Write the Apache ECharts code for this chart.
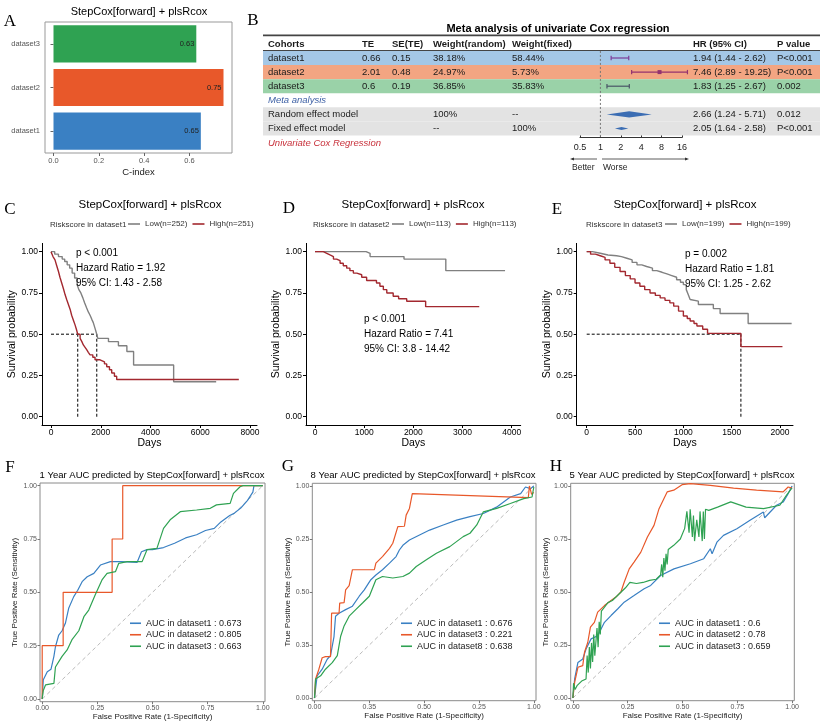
<!DOCTYPE html>
<html><head><meta charset="utf-8">
<script src="https://cdn.jsdelivr.net/npm/echarts@6/dist/echarts.min.js"></script>
<style>html,body{margin:0;padding:0;background:#fff}#c{width:825px;height:728px}</style>
</head><body><div id="c"></div>
<script>
// ---------------- DATA ----------------
// Panel A
const barCats = ['dataset1', 'dataset2', 'dataset3'];
const cIndex = [0.65, 0.75, 0.63];
const cIndexTicks = [0, 0.2, 0.4, 0.6];

// Panel B (meta analysis table)
const tableHeader = ['Cohorts', 'TE', 'SE(TE)', 'Weight(random)', 'Weight(fixed)', 'HR (95% CI)', 'P value'];
const cohorts = ['dataset1', 'dataset2', 'dataset3'];
const cohortTE = [0.66, 2.01, 0.6];
const cohortSE = [0.15, 0.48, 0.19];
const cohortWRandom = ['38.18%', '24.97%', '36.85%'];
const cohortWFixed = ['58.44%', '5.73%', '35.83%'];
const cohortHR = [1.94, 7.46, 1.83];
const cohortLo = [1.44, 2.89, 1.25];
const cohortHi = [2.62, 19.25, 2.67];
const cohortP = ['P<0.001', 'P<0.001', '0.002'];
const metaModels = ['Random effect model', 'Fixed effect model'];
const metaWRandom = ['100%', '--'];
const metaWFixed = ['--', '100%'];
const metaHR = [2.66, 2.05];
const metaLo = [1.24, 1.64];
const metaHi = [5.71, 2.58];
const metaP = ['0.012', 'P<0.001'];

// Panels C-E (Kaplan-Meier)  [days, survival]
const kmC_low = [[0,1],[150,0.985],[300,0.97],[450,0.955],[550,0.94],[650,0.92],[750,0.9],[850,0.87],[950,0.84],[1050,0.8],[1120,0.77],[1200,0.75],[1280,0.72],[1350,0.69],[1430,0.66],[1500,0.635],[1570,0.615],[1640,0.59],[1700,0.57],[1770,0.535],[1840,0.5],[1880,0.475],[2310,0.455],[2710,0.43],[3050,0.395],[3320,0.313],[4930,0.212],[6640,0.212]];
const kmC_high = [[0,1],[80,0.97],[160,0.95],[230,0.915],[300,0.88],[360,0.845],[430,0.81],[500,0.775],[565,0.74],[630,0.71],[700,0.68],[770,0.65],[830,0.615],[900,0.585],[970,0.555],[1020,0.53],[1075,0.5],[1170,0.475],[1240,0.455],[1300,0.435],[1370,0.42],[1440,0.405],[1500,0.39],[1570,0.375],[1680,0.36],[1770,0.345],[1970,0.333],[2150,0.32],[2240,0.303],[2350,0.285],[2440,0.265],[2550,0.245],[2640,0.226],[7550,0.226]];
const kmD_low = [[0,1],[1040,0.99],[1120,0.97],[1810,0.955],[2660,0.885],[3865,0.885]];
const kmD_high = [[0,1],[170,0.99],[240,0.98],[305,0.97],[375,0.955],[440,0.945],[510,0.93],[575,0.915],[645,0.9],[710,0.885],[780,0.87],[850,0.86],[950,0.845],[1050,0.825],[1250,0.81],[1320,0.79],[1390,0.77],[1460,0.75],[1590,0.73],[1700,0.715],[1865,0.7],[2250,0.667],[3340,0.667]];
const kmE_low = [[0,1],[60,0.99],[140,0.98],[220,0.975],[310,0.97],[360,0.96],[415,0.95],[470,0.935],[520,0.92],[570,0.91],[620,0.9],[680,0.885],[725,0.875],[780,0.865],[830,0.855],[880,0.845],[930,0.83],[970,0.815],[1000,0.8],[1030,0.77],[1050,0.74],[1070,0.71],[1090,0.7],[1155,0.68],[1310,0.655],[1380,0.625],[1670,0.565],[2120,0.565]];
const kmE_high = [[0,1],[40,0.985],[90,0.975],[140,0.965],[190,0.95],[240,0.93],[290,0.905],[345,0.88],[400,0.855],[450,0.835],[500,0.81],[550,0.79],[600,0.77],[655,0.75],[710,0.735],[760,0.72],[810,0.705],[860,0.69],[900,0.67],[950,0.64],[1000,0.61],[1040,0.595],[1070,0.58],[1110,0.565],[1140,0.55],[1200,0.53],[1250,0.505],[1595,0.425],[2025,0.425]];
const kmMedC = [1075, 1840];
const kmMedE = [1595];
const kmLegendC = ['Low(n=252)', 'High(n=251)'];
const kmLegendD = ['Low(n=113)', 'High(n=113)'];
const kmLegendE = ['Low(n=199)', 'High(n=199)'];
const kmPText = ['p < 0.001', 'p < 0.001', 'p = 0.002'];
const kmHR = ['1.92', '7.41', '1.81'];
const kmCI = ['1.43 - 2.58', '3.8 - 14.42', '1.25 - 2.62'];
const kmTicksC = [0, 2000, 4000, 6000, 8000];
const kmTicksD = [0, 1000, 2000, 3000, 4000];
const kmTicksE = [0, 500, 1000, 1500, 2000];
const survTicks = [0, 0.25, 0.5, 0.75, 1];

// Panels F-H (ROC)  [FPR, TPR]
const rocTicks = [0, 0.25, 0.5, 0.75, 1];
const rocTickLabels = ['0.00', '0.25', '0.50', '0.75', '1.00'];
const rocTickLabelsG = ['0.00', '0.35', '0.50', '0.25', '1.00'];
const rocNamesF = ['AUC in dataset1 : 0.673', 'AUC in dataset2 : 0.805', 'AUC in dataset3 : 0.663'];
const rocNamesG = ['AUC in dataset1 : 0.676', 'AUC in dataset3 : 0.221', 'AUC in dataset8 : 0.638'];
const rocNamesH = ['AUC in dataset1 : 0.6', 'AUC in dataset2 : 0.78', 'AUC in dataset3 : 0.659'];
const rocF1 = [[0,0],[0.005,0.09],[0.023,0.128],[0.04,0.14],[0.053,0.2],[0.06,0.245],[0.075,0.3],[0.09,0.32],[0.105,0.355],[0.12,0.425],[0.143,0.48],[0.161,0.51],[0.181,0.55],[0.204,0.573],[0.234,0.589],[0.264,0.628],[0.309,0.644],[0.36,0.644],[0.43,0.64],[0.45,0.69],[0.475,0.7],[0.5,0.7],[0.55,0.71],[0.6,0.73],[0.65,0.755],[0.7,0.77],[0.74,0.79],[0.78,0.8],[0.81,0.83],[0.85,0.86],[0.87,0.87],[0.9,0.895],[0.93,0.93],[0.955,0.97],[0.96,1],[1,1]];
const rocF2 = [[0,0],[0,0.25],[0.095,0.25],[0.095,0.5],[0.317,0.5],[0.317,0.75],[0.365,0.75],[0.365,1],[1,1]];
const rocF3 = [[0,0],[0.005,0.04],[0.015,0.066],[0.053,0.073],[0.06,0.15],[0.09,0.2],[0.113,0.23],[0.136,0.28],[0.166,0.32],[0.189,0.386],[0.211,0.417],[0.241,0.49],[0.271,0.558],[0.294,0.589],[0.332,0.597],[0.347,0.636],[0.385,0.644],[0.453,0.644],[0.475,0.7],[0.52,0.706],[0.55,0.8],[0.58,0.84],[0.626,0.878],[0.7,0.886],[0.762,0.894],[0.79,0.91],[0.852,0.917],[0.867,0.964],[0.897,0.995],[0.91,1],[1,1]];
const rocG1 = [[0,0],[0.012,0.105],[0.035,0.136],[0.058,0.183],[0.073,0.2],[0.089,0.29],[0.096,0.386],[0.112,0.4],[0.142,0.417],[0.173,0.433],[0.204,0.48],[0.227,0.51],[0.257,0.558],[0.28,0.58],[0.31,0.605],[0.342,0.636],[0.372,0.667],[0.387,0.698],[0.403,0.72],[0.433,0.745],[0.479,0.769],[0.525,0.792],[0.587,0.816],[0.648,0.839],[0.709,0.855],[0.77,0.87],[0.83,0.9],[0.893,0.948],[0.94,0.964],[0.962,0.995],[0.985,0.9875],[1,1]];
const rocG2 = [[0,0],[0.005,0.09],[0.02,0.136],[0.035,0.19],[0.05,0.195],[0.073,0.195],[0.078,0.4],[0.112,0.4],[0.115,0.448],[0.135,0.45],[0.142,0.51],[0.158,0.53],[0.173,0.605],[0.273,0.605],[0.28,0.636],[0.31,0.667],[0.342,0.706],[0.357,0.73],[0.38,0.808],[0.41,0.81],[0.418,0.8625],[0.433,0.894],[0.446,0.964],[0.449,0.967],[0.975,0.945],[0.98,1],[0.99,0.96],[1,0.97]];
const rocG3 = [[0,0],[0.005,0.09],[0.028,0.105],[0.05,0.136],[0.081,0.167],[0.104,0.2],[0.119,0.29],[0.135,0.34],[0.158,0.386],[0.188,0.417],[0.219,0.448],[0.25,0.48],[0.28,0.558],[0.31,0.573],[0.357,0.566],[0.403,0.573],[0.433,0.589],[0.464,0.62],[0.51,0.652],[0.556,0.683],[0.617,0.714],[0.678,0.761],[0.709,0.777],[0.74,0.816],[0.77,0.878],[0.831,0.894],[0.893,0.917],[0.954,0.94],[0.992,0.948],[1,0.995]];
const rocH1 = [[0,0],[0.008,0.09],[0.023,0.168],[0.045,0.184],[0.06,0.231],[0.083,0.279],[0.113,0.294],[0.144,0.357],[0.174,0.389],[0.204,0.42],[0.234,0.452],[0.279,0.483],[0.325,0.515],[0.355,0.531],[0.4,0.578],[0.461,0.609],[0.536,0.633],[0.597,0.657],[0.627,0.704],[0.635,0.68],[0.657,0.735],[0.687,0.767],[0.748,0.798],[0.808,0.838],[0.869,0.877],[0.875,0.85],[0.929,0.909],[0.959,0.924],[0.982,0.964],[1,1]];
const rocH2 = [[0,0],[0.008,0.074],[0.023,0.145],[0.045,0.153],[0.053,0.216],[0.068,0.263],[0.08,0.334],[0.098,0.357],[0.113,0.405],[0.144,0.436],[0.174,0.46],[0.196,0.476],[0.219,0.5],[0.234,0.546],[0.257,0.609],[0.279,0.641],[0.31,0.688],[0.34,0.759],[0.37,0.814],[0.393,0.893],[0.415,0.94],[0.43,0.972],[0.46,0.98],[0.498,1.006],[0.536,1.011],[0.627,1.003],[0.733,0.99],[0.838,0.98],[0.959,0.972],[0.982,0.995],[1,0.99]];
const rocH3 = [[0,0],[0.003,0.07],[0.01,0.04],[0.02,0.06],[0.04,0.08],[0.06,0.09],[0.065,0.2],[0.07,0.12],[0.075,0.24],[0.08,0.14],[0.085,0.26],[0.09,0.17],[0.095,0.3],[0.1,0.2],[0.11,0.33],[0.115,0.24],[0.12,0.36],[0.125,0.3],[0.13,0.41],[0.145,0.43],[0.16,0.45],[0.18,0.46],[0.2,0.48],[0.22,0.5],[0.24,0.52],[0.26,0.545],[0.29,0.54],[0.32,0.545],[0.35,0.555],[0.38,0.56],[0.4,0.58],[0.405,0.63],[0.41,0.57],[0.415,0.66],[0.42,0.6],[0.425,0.68],[0.43,0.63],[0.435,0.7],[0.46,0.72],[0.49,0.75],[0.51,0.8],[0.52,0.88],[0.53,0.78],[0.535,0.89],[0.545,0.76],[0.55,0.86],[0.555,0.74],[0.565,0.84],[0.575,0.76],[0.58,0.88],[0.59,0.74],[0.595,0.88],[0.6,0.75],[0.605,0.89],[0.62,0.885],[0.66,0.9],[0.72,0.925],[0.79,0.9],[0.87,0.893],[0.944,0.909],[0.974,0.956],[0.997,0.987],[1,0.99]];
const diagLine = [[0,0],[1,1]];

// ---------------- STYLE / LAYOUT ----------------
const SANS = 'Liberation Sans';
const SERIF = 'Liberation Serif';
const cBlue = '#3a80c3', cOrange = '#e8582a', cGreen = '#2fa252';
const kmLowColor = '#808080', kmHighColor = '#a3282f';

function txt(text, x, y, size, o) {
  return {type: 'text', silent: true, z: 100,
    style: Object.assign({text: text, x: x, y: y, fontSize: size, fontFamily: SANS, fill: '#000', align: 'left', verticalAlign: 'middle'}, o || {})};
}

// ---- table rows for panel B ----
const colX = [268, 362, 392, 433, 512, 693, 777];
const tableLeft = 263, tableRight = 820;
const rowBg = ['#a4c7e6', '#f3a582', '#9ad2a8'];
const ciColors = ['#7d3c98', '#94336f', '#4a5566'];
const ciPoint = [false, true, false];
const diamondHalf = [3.2, 1.6];
const fmtCI = (h, l, u) => h.toFixed(2) + ' (' + l.toFixed(2) + ' - ' + u.toFixed(2) + ')';
const tableRows = [];
tableRows.push({kind: 'header', pos: -1, cells: tableHeader});
cohorts.forEach((c, i) => tableRows.push({kind: 'study', pos: i, bg: rowBg[i],
  cells: [c, String(cohortTE[i]), String(cohortSE[i]), cohortWRandom[i], cohortWFixed[i], fmtCI(cohortHR[i], cohortLo[i], cohortHi[i]), cohortP[i]],
  hr: cohortHR[i], lo: cohortLo[i], hi: cohortHi[i], color: ciColors[i], pt: ciPoint[i]}));
tableRows.push({kind: 'label', pos: 3, cells: ['Meta analysis']});
metaModels.forEach((m, i) => tableRows.push({kind: 'model', pos: 4 + i, bg: '#e3e3e3',
  cells: [m, '', '', metaWRandom[i], metaWFixed[i], fmtCI(metaHR[i], metaLo[i], metaHi[i]), metaP[i]],
  hr: metaHR[i], lo: metaLo[i], hi: metaHi[i], dh: diamondHalf[i]}));

function renderTable(params, api) {
  const r = tableRows[params.dataIndex];
  const yc = api.coord([1, r.pos])[1];
  const yTop = api.coord([1, r.pos - 0.5])[1];
  const yBot = api.coord([1, r.pos + 0.5])[1];
  const X = v => api.coord([v, r.pos])[0];
  const ch = [];
  if (r.bg) ch.push({type: 'rect', shape: {x: tableLeft, y: yTop, width: tableRight - tableLeft, height: yBot - yTop}, style: {fill: r.bg}});
  if (r.kind === 'header') {
    ch.push({type: 'line', shape: {x1: tableLeft, y1: yTop - 1.5, x2: tableRight, y2: yTop - 1.5}, style: {stroke: '#444', lineWidth: 1.8}});
    ch.push({type: 'line', shape: {x1: tableLeft, y1: yBot, x2: tableRight, y2: yBot}, style: {stroke: '#444', lineWidth: 1.8}});
    const x1 = api.coord([1, 0])[0];
    ch.push({type: 'line', z2: 5, shape: {x1: x1, y1: yBot, x2: x1, y2: api.coord([1, 5.6])[1]}, style: {stroke: '#777', lineWidth: 1, lineDash: [2, 2]}});
  }
  r.cells.forEach((t, j) => {
    if (t === '' || t == null) return;
    const st = {text: t, x: colX[j], y: yc, fontSize: 9.5, fontFamily: SANS, fill: '#1a1a1a', align: 'left', verticalAlign: 'middle'};
    if (r.kind === 'header') st.fontWeight = 'bold';
    if (r.kind === 'label') { st.fontStyle = 'italic'; st.fill = '#3f62a6'; }
    ch.push({type: 'text', z2: 10, style: st});
  });
  if (r.kind === 'study') {
    const x1 = X(r.lo), x2 = X(r.hi), xm = X(r.hr);
    const s = {stroke: r.color, lineWidth: 1.2};
    ch.push({type: 'line', z2: 8, shape: {x1: x1, y1: yc, x2: x2, y2: yc}, style: s});
    ch.push({type: 'line', z2: 8, shape: {x1: x1, y1: yc - 2.2, x2: x1, y2: yc + 2.2}, style: s});
    ch.push({type: 'line', z2: 8, shape: {x1: x2, y1: yc - 2.2, x2: x2, y2: yc + 2.2}, style: s});
    if (r.pt) ch.push({type: 'rect', z2: 9, shape: {x: xm - 2, y: yc - 2, width: 4, height: 4}, style: {fill: r.color}});
  }
  if (r.kind === 'model') {
    const xl = X(r.lo), xh = X(r.hi), xm = X(r.hr);
    ch.push({type: 'polygon', z2: 8, shape: {points: [[xl, yc], [xm, yc - r.dh], [xh, yc], [xm, yc + r.dh]]}, style: {fill: '#3b6db3'}});
  }
  return {type: 'group', children: ch};
}

// ---- axes helpers ----
function kmX(g, min, max, ticks) {
  return {gridIndex: g, type: 'value', min: min, max: max,
    axisLine: {show: true, onZero: false, lineStyle: {color: '#000', width: 1}},
    axisTick: {show: true, customValues: ticks, length: 3, lineStyle: {color: '#000'}},
    axisLabel: {customValues: ticks, formatter: v => String(v), fontSize: 8.5, color: '#000', margin: 3, fontFamily: SANS},
    splitLine: {show: false}, name: 'Days', nameLocation: 'middle', nameGap: 13,
    nameTextStyle: {fontSize: 10.5, color: '#000', fontFamily: SANS}};
}
function kmY(g) {
  return {gridIndex: g, type: 'value', min: -0.05, max: 1.05,
    axisLine: {show: true, onZero: false, lineStyle: {color: '#000', width: 1}},
    axisTick: {show: true, customValues: survTicks, length: 3, lineStyle: {color: '#000'}},
    axisLabel: {customValues: survTicks, formatter: v => v.toFixed(2), fontSize: 8.5, color: '#000', margin: 4, fontFamily: SANS},
    splitLine: {show: false}, name: 'Survival probability', nameLocation: 'middle', nameGap: 24, nameRotate: 90,
    nameTextStyle: {fontSize: 10.5, color: '#000', fontFamily: SANS}};
}
function rocX(g, labels) {
  return {gridIndex: g, type: 'value', min: -0.01, max: 1.01,
    axisLine: {show: false, onZero: false},
    axisTick: {show: true, customValues: rocTicks, length: 2.5, lineStyle: {color: '#777'}},
    axisLabel: {customValues: rocTicks, formatter: v => labels[rocTicks.indexOf(v)], fontSize: 7, color: '#555', margin: 3, fontFamily: SANS},
    splitLine: {show: false}, name: 'False Positive Rate (1-Specificity)', nameLocation: 'middle', nameGap: 10,
    nameTextStyle: {fontSize: 8, color: '#222', fontFamily: SANS}};
}
function rocY(g, labels) {
  return {gridIndex: g, type: 'value', min: -0.0125, max: 1.0125,
    axisLine: {show: false, onZero: false},
    axisTick: {show: true, customValues: rocTicks, length: 2.5, lineStyle: {color: '#777'}},
    axisLabel: {customValues: rocTicks, formatter: v => labels[rocTicks.indexOf(v)], fontSize: 7, color: '#555', margin: 3, fontFamily: SANS},
    splitLine: {show: false}, name: 'True Positive Rate (Sensitivity)', nameLocation: 'middle', nameGap: 21, nameRotate: 90,
    nameTextStyle: {fontSize: 8, color: '#222', fontFamily: SANS}};
}
function kmLine(g, name, data, color) {
  return {type: 'line', name: name, xAxisIndex: g, yAxisIndex: g, data: data, step: 'end', showSymbol: false, symbol: 'none',
    lineStyle: {color: color, width: 1.4}, itemStyle: {color: color}, z: 3};
}
function dashLine(g, data) {
  return {type: 'line', xAxisIndex: g, yAxisIndex: g, data: data, showSymbol: false, symbol: 'none',
    lineStyle: {color: '#000', width: 1, type: [3, 2]}, z: 2, silent: true};
}
function rocLine(g, name, data, color) {
  return {type: 'line', name: name, xAxisIndex: g, yAxisIndex: g, data: data, showSymbol: false, symbol: 'none',
    lineStyle: {color: color, width: 1.2}, itemStyle: {color: color}, z: 3};
}
function diag(g) {
  return {type: 'line', xAxisIndex: g, yAxisIndex: g, data: diagLine, showSymbol: false, symbol: 'none',
    lineStyle: {color: '#bbbbbb', width: 1, type: [4, 3]}, z: 1, silent: true};
}
function kmLegend(names, left) {
  return {data: names, left: left, top: 220, orient: 'horizontal', icon: 'rect', itemWidth: 12, itemHeight: 1.6, itemGap: 5, padding: 0,
    selectedMode: false, textStyle: {fontSize: 8, color: '#333', fontFamily: SANS}};
}
function rocLegend(names, left) {
  return {data: names, left: left, top: 618, orient: 'vertical', icon: 'rect', itemWidth: 11, itemHeight: 1.6, itemGap: 1, padding: 0,
    selectedMode: false, textStyle: {fontSize: 9, color: '#222', fontFamily: SANS, lineHeight: 10.5}};
}

const grids = [
  {left: 45, top: 22, width: 187, height: 131, show: true, borderColor: '#999', borderWidth: 1},      // A
  {left: 580, top: 36.85, width: 102, height: 98.7},                                                // B
  {left: 42, top: 243.4, width: 215, height: 181.6},                                                // C
  {left: 306, top: 243.4, width: 214.7, height: 181.6},                                             // D
  {left: 576.7, top: 243.4, width: 216.3, height: 181.6},                                           // E
  {left: 40, top: 483, width: 225, height: 218.7, show: true, borderColor: '#8a8a8a', borderWidth: 1},   // F
  {left: 312.3, top: 483.3, width: 223.7, height: 217.4, show: true, borderColor: '#8a8a8a', borderWidth: 1}, // G
  {left: 570.7, top: 483.3, width: 223.6, height: 217.4, show: true, borderColor: '#8a8a8a', borderWidth: 1}  // H
].map(g => Object.assign({containLabel: false, outerBoundsMode: 'none'}, g));

const xAxes = [
  {gridIndex: 0, type: 'value', min: -0.0375, max: 0.7875,
    axisLine: {show: false, onZero: false},
    axisTick: {show: true, customValues: cIndexTicks, length: 3, lineStyle: {color: '#666'}},
    axisLabel: {customValues: cIndexTicks, formatter: v => v.toFixed(1), fontSize: 7.5, color: '#555', margin: 4, fontFamily: SANS},
    splitLine: {show: false}, name: 'C-index', nameLocation: 'middle', nameGap: 14,
    nameTextStyle: {fontSize: 9.5, color: '#222', fontFamily: SANS}},
  {gridIndex: 1, type: 'log', logBase: 2, min: 0.5, max: 16, position: 'bottom', offset: 2,
    axisLine: {show: true, onZero: false, lineStyle: {color: '#333', width: 1}},
    axisTick: {show: true, inside: true, length: 3, lineStyle: {color: '#333'}},
    axisLabel: {fontSize: 9, color: '#222', margin: 5, fontFamily: SANS, formatter: v => String(v)},
    splitLine: {show: false}},
  kmX(2, -362, 8281, kmTicksC),
  kmX(3, -183, 4183, kmTicksD),
  kmX(4, -103.5, 2134, kmTicksE),
  rocX(5, rocTickLabels),
  rocX(6, rocTickLabelsG),
  rocX(7, rocTickLabels)
];
const yAxes = [
  {gridIndex: 0, type: 'category', data: barCats,
    axisLine: {show: false}, axisTick: {show: true, alignWithLabel: true, length: 3, lineStyle: {color: '#666'}},
    axisLabel: {fontSize: 7.5, color: '#555', margin: 5, fontFamily: SANS}},
  {gridIndex: 1, type: 'value', inverse: true, min: -1.5, max: 5.5, show: false},
  kmY(2), kmY(3), kmY(4),
  rocY(5, rocTickLabels), rocY(6, rocTickLabelsG), rocY(7, rocTickLabels)
];

const barColors = [cBlue, cOrange, cGreen];
const series = [
  {type: 'bar', xAxisIndex: 0, yAxisIndex: 0, barCategoryGap: '15%',
    data: cIndex.map((v, i) => ({value: v, itemStyle: {color: barColors[i]}})),
    label: {show: true, position: 'insideRight', distance: 2, formatter: p => p.value.toFixed(2), fontSize: 7.5, color: '#222', fontFamily: SANS}},
  {type: 'custom', xAxisIndex: 1, yAxisIndex: 1, renderItem: renderTable, clip: false,
    data: tableRows.map(r => [1, r.pos]), encode: {x: 0, y: 1}, silent: true},
  kmLine(2, kmLegendC[0], kmC_low, kmLowColor),
  kmLine(2, kmLegendC[1], kmC_high, kmHighColor),
  dashLine(2, [[0, 0.5], [kmMedC[1], 0.5]]),
  dashLine(2, [[kmMedC[0], 0], [kmMedC[0], 0.5]]),
  dashLine(2, [[kmMedC[1], 0], [kmMedC[1], 0.5]]),
  kmLine(3, kmLegendD[0], kmD_low, kmLowColor),
  kmLine(3, kmLegendD[1], kmD_high, kmHighColor),
  kmLine(4, kmLegendE[0], kmE_low, kmLowColor),
  kmLine(4, kmLegendE[1], kmE_high, kmHighColor),
  dashLine(4, [[0, 0.5], [kmMedE[0], 0.5]]),
  dashLine(4, [[kmMedE[0], 0], [kmMedE[0], 0.5]]),
  diag(5), rocLine(5, rocNamesF[0], rocF1, cBlue), rocLine(5, rocNamesF[1], rocF2, cOrange), rocLine(5, rocNamesF[2], rocF3, cGreen),
  diag(6), rocLine(6, rocNamesG[0], rocG1, cBlue), rocLine(6, rocNamesG[1], rocG2, cOrange), rocLine(6, rocNamesG[2], rocG3, cGreen),
  diag(7), rocLine(7, rocNamesH[0], rocH1, cBlue), rocLine(7, rocNamesH[1], rocH2, cOrange), rocLine(7, rocNamesH[2], rocH3, cGreen)
];

const letter = (t, x, y) => txt(t, x, y, 17, {fontFamily: SERIF, align: 'center'});
const graphics = [
  letter('A', 10, 22), letter('B', 253, 21), letter('C', 10, 210), letter('D', 289, 209),
  letter('E', 557, 210), letter('F', 10, 468), letter('G', 288, 467), letter('H', 556, 467),
  txt('StepCox[forward] + plsRcox', 139, 12, 11, {align: 'center'}),
  txt('Meta analysis of univariate Cox regression', 558, 29, 11, {align: 'center', fontWeight: 'bold'}),
  txt('Univariate Cox Regression', 268, 143, 9.5, {fontStyle: 'italic', fill: '#c8323c'}),
  txt('Better', 572, 168, 8.5, {fill: '#222'}),
  txt('Worse', 603, 168, 8.5, {fill: '#222'}),
  {type: 'line', silent: true, shape: {x1: 597, y1: 159, x2: 572, y2: 159}, style: {stroke: '#333', lineWidth: 0.8}},
  {type: 'polygon', silent: true, shape: {points: [[570, 159], [574, 157.5], [574, 160.5]]}, style: {fill: '#333'}},
  {type: 'line', silent: true, shape: {x1: 602, y1: 159, x2: 687, y2: 159}, style: {stroke: '#333', lineWidth: 0.8}},
  {type: 'polygon', silent: true, shape: {points: [[689, 159], [685, 157.5], [685, 160.5]]}, style: {fill: '#333'}},
  txt('StepCox[forward] + plsRcox', 150, 205, 11.5, {align: 'center'}),
  txt('StepCox[forward] + plsRcox', 413, 205, 11.5, {align: 'center'}),
  txt('StepCox[forward] + plsRcox', 685, 205, 11.5, {align: 'center'}),
  txt('Riskscore in dataset1', 50, 225, 8, {fill: '#333'}),
  txt('Riskscore in dataset2', 313, 225, 8, {fill: '#333'}),
  txt('Riskscore in dataset3', 586, 225, 8, {fill: '#333'}),
  txt('1 Year AUC predicted by StepCox[forward] + plsRcox', 152, 475, 9.5, {align: 'center'}),
  txt('8 Year AUC predicted by StepCox[forward] + plsRcox', 423, 475, 9.5, {align: 'center'}),
  txt('5 Year AUC predicted by StepCox[forward] + plsRcox', 682, 475, 9.5, {align: 'center'})
];
const annX = [76, 364, 685], annY = [253, 319, 254];
for (let i = 0; i < 3; i++) {
  graphics.push(txt(kmPText[i], annX[i], annY[i], 10));
  graphics.push(txt('Hazard Ratio = ' + kmHR[i], annX[i], annY[i] + 15, 10));
  graphics.push(txt('95% CI: ' + kmCI[i], annX[i], annY[i] + 30, 10));
}

const chart = echarts.init(document.getElementById('c'), null, {renderer: 'canvas'});
chart.setOption({
  animation: false,
  backgroundColor: '#fff',
  textStyle: {fontFamily: SANS},
  grid: grids,
  xAxis: xAxes,
  yAxis: yAxes,
  legend: [
    kmLegend(kmLegendC, 128), kmLegend(kmLegendD, 392), kmLegend(kmLegendE, 665),
    rocLegend(rocNamesF, 130), rocLegend(rocNamesG, 401), rocLegend(rocNamesH, 659)
  ],
  series: series,
  graphic: graphics
});
</script></body></html>
